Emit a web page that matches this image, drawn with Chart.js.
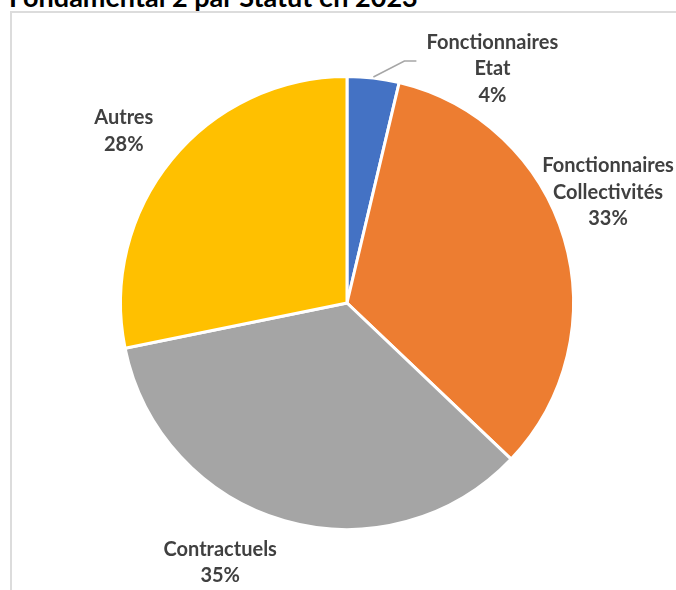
<!DOCTYPE html>
<html>
<head>
<meta charset="utf-8">
<script src="https://cdn.jsdelivr.net/npm/chart.js@4"></script>
<style>
    body { margin: 0; background: #fff; width: 676px; height: 590px; overflow: hidden; position: relative; }
    #title { position: absolute; left: 9px; top: -20px; font: bold 27px Lato, sans-serif; color: #000; white-space: nowrap; }
    #frame { position: absolute; left: 10px; top: 11px; width: 700px; height: 600px; border-left: 2px solid #dcdcdc; border-top: 2px solid #dcdcdc; }
    #myChart { position: absolute; left: 0; top: 0; }
</style>
</head>
<body>
<div id="title">Fondamental 2 par Statut en 2023</div>
<div id="frame"></div>
<canvas id="myChart" width="676" height="590"></canvas>
<script>
// parts of staff by status (percent)
const categories = [['Fonctionnaires', 'Etat'], ['Fonctionnaires', 'Collectivités'], ['Contractuels'], ['Autres']];
const shares = [3.7, 33.4, 34.7, 28.2];
const colors = ['#4472C4', '#ED7D31', '#A5A5A5', '#FFC000'];

// where each label sits, relative to the slice edge at its middle angle
const labelOffsets = [
    { dx: 119, dy: -8, leader: true },
    { dx: 43, dy: -46 },
    { dx: -64, dy: 41 },
    { dx: -47, dy: -28 }
];

const sliceLabels = {
    id: 'sliceLabels',
    afterDatasetsDraw(chart) {
        const ctx = chart.ctx;
        const meta = chart.getDatasetMeta(0);
        const total = shares.reduce((a, b) => a + b, 0);
        ctx.save();
        meta.data.forEach((arc, i) => {
            const mid = (arc.startAngle + arc.endAngle) / 2;
            const ex = arc.x + Math.cos(mid) * (arc.outerRadius + 1);
            const ey = arc.y + Math.sin(mid) * (arc.outerRadius + 1);
            const off = labelOffsets[i];
            const cx = ex + off.dx;
            const cy = ey + off.dy;

            if (off.leader) {
                ctx.strokeStyle = '#a6a6a6';
                ctx.lineWidth = 1.5;
                ctx.beginPath();
                ctx.moveTo(ex, ey);
                ctx.lineTo(ex + 31, ey - 16);
                ctx.lineTo(ex + 43, ey - 16);
                ctx.stroke();
            }

            const lines = categories[i].concat([Math.round(shares[i] / total * 100) + '%']);
            const lineH = 26.5;
            ctx.fillStyle = '#404040';
            ctx.font = 'bold 20px Lato, sans-serif';
            ctx.textAlign = 'center';
            ctx.textBaseline = 'middle';
            lines.forEach((txt, j) => {
                ctx.fillText(txt, cx, cy + (j - (lines.length - 1) / 2) * lineH);
            });
        });
        ctx.restore();
    }
};

const chartCtx = document.getElementById('myChart').getContext('2d');
const myChart = new Chart(chartCtx, {
    type: 'pie',
    data: {
        labels: categories.map(c => c.join(' ')),
        datasets: [{
            data: shares,
            backgroundColor: colors,
            borderColor: '#ffffff',
            borderWidth: 3
        }]
    },
    options: {
        responsive: false,
        animation: false,
        layout: {
            padding: { left: 119, right: 101, top: 75, bottom: 59 }
        },
        plugins: {
            legend: { display: false },
            tooltip: { enabled: false }
        }
    },
    plugins: [sliceLabels]
});
</script>
</body>
</html>
